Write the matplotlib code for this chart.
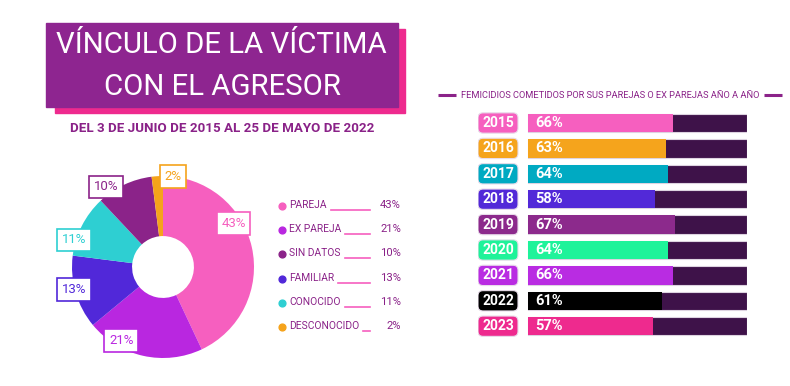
import matplotlib.pyplot as plt
from matplotlib.patches import Rectangle, FancyBboxPatch
import numpy as np

plt.rcParams['font.family'] = ['Roboto', 'DejaVu Sans']

W, H = 790, 386

TITULO = ["VÍNCULO DE LA VÍCTIMA", "CON EL AGRESOR"]
SUBTITULO = "DEL 3 DE JUNIO DE 2015 AL 25 DE MAYO DE 2022"
ENCABEZADO = "FEMICIDIOS COMETIDOS POR SUS PAREJAS O EX PAREJAS AÑO A AÑO"

# dona: sectores en sentido horario desde arriba
vinculos = ["PAREJA", "EX PAREJA", "FAMILIAR", "CONOCIDO", "SIN DATOS", "DESCONOCIDO"]
vinculo_pct = [43, 21, 13, 11, 10, 2]
vinculo_colores = ["#f65fbf", "#b927e0", "#5128d9", "#2ecfd2", "#8b2389", "#f5a31b"]
leyenda_orden = ["PAREJA", "EX PAREJA", "SIN DATOS", "FAMILIAR", "CONOCIDO", "DESCONOCIDO"]

# barras por año
anios = ["2015", "2016", "2017", "2018", "2019", "2020", "2021", "2022", "2023"]
anio_pct = [66, 63, 64, 58, 67, 64, 66, 61, 57]
anio_colores = ["#f65fbf", "#f5a41c", "#00aac2", "#5229d8", "#8c2a8c",
                "#1ef39a", "#b92ce2", "#000000", "#ee2a8e"]

MORADO = "#8b2389"
TEXTO = "#8a2288"
ROSA = "#f65fbf"
FONDO_BARRA = "#3e1249"

fig = plt.figure(figsize=(W / 100, H / 100), dpi=100)
bg = fig.add_axes([0, 0, 1, 1])
bg.set_xlim(0, W)
bg.set_ylim(H, 0)
bg.axis('off')
rend = fig.canvas.get_renderer()


def px_axes(x0, y0, x1, y1):
    return fig.add_axes([x0 / W, 1 - y1 / H, (x1 - x0) / W, (y1 - y0) / H])


def ajustar(t, ancho):
    # escala la fuente para que el texto ocupe 'ancho' pixeles
    w = t.get_window_extent(rend).width
    t.set_fontsize(t.get_fontsize() * ancho / w)
    return t


def extremos(t):
    bb = t.get_window_extent(rend)
    return bb.x0, bb.x1


# --- titulo ---
bg.add_patch(Rectangle((55, 29), 350, 84, color="#ee2a8e", zorder=1))
bg.add_patch(Rectangle((46, 23), 352, 84, color="#8e2590", zorder=2))
t1 = bg.text(221, 45, TITULO[0], color='white', fontsize=20, ha='center', va='center', zorder=3)
ajustar(t1, 330)
bg.text(222, 87, TITULO[1], color='white', fontsize=t1.get_fontsize(),
        ha='center', va='center', zorder=3)
ts = bg.text(222, 128, SUBTITULO, color=TEXTO, fontsize=10, fontweight='bold',
             ha='center', va='center')
ajustar(ts, 305)

# --- dona ---
cx, cy, r = 163, 267, 91
axd = px_axes(cx - r, cy - r, cx + r, cy + r)
wedges, _ = axd.pie(vinculo_pct, colors=vinculo_colores, startangle=90, counterclock=False,
                    radius=1, wedgeprops=dict(width=0.66, linewidth=0))
axd.set_xlim(-1, 1)
axd.set_ylim(-1, 1)
axd.set_aspect('equal')
axd.axis('off')

# ajuste de posición de las etiquetas (grados, radio)
ajustes = [(19, 0.91), (-17, 0.93), (-2, 1.01), (10, 1.02), (10, 1.08), (-10, 1.0)]
for w, v, c, (da, rr) in zip(wedges, vinculo_pct, vinculo_colores, ajustes):
    ang = np.deg2rad((w.theta1 + w.theta2) / 2 + da)
    axd.text(rr * np.cos(ang), rr * np.sin(ang), f"{v}%", color=c, fontsize=9.5,
             ha='center', va='center', clip_on=False,
             bbox=dict(boxstyle='square,pad=0.35', fc='white', ec=c, lw=1.2))

# --- leyenda ---
filas = []
for i, nombre in enumerate(leyenda_orden):
    k = vinculos.index(nombre)
    y = 205 + i * 24.2
    bg.scatter([282], [y + 1], s=24, color=vinculo_colores[k], zorder=3)
    t = bg.text(289, y, nombre, color=TEXTO, fontsize=9, ha='left', va='center')
    filas.append((t, y, k))

ajustar(filas[-1][0], 70)
tam_ley = filas[-1][0].get_fontsize()
inv = bg.transData.inverted()
for t, y, k in filas:
    t.set_fontsize(tam_ley)
    bg.text(401, y, f"{vinculo_pct[k]}%", color=TEXTO, fontsize=tam_ley * 1.1,
            ha='right', va='center')
    x_end = inv.transform((extremos(t)[1], 0))[0]
    bg.plot([max(x_end + 4, 323), 370], [y + 5, y + 5], color=ROSA, lw=1.2)

# --- encabezado derecho ---
th = bg.text(610, 95, ENCABEZADO, color=TEXTO, fontsize=7, ha='center', va='center')
ajustar(th, 300)
a, b = extremos(th)
x0 = inv.transform((a, 0))[0]
x1 = inv.transform((b, 0))[0]
bg.plot([438, x0 - 5], [95, 95], color=MORADO, lw=2.2, solid_capstyle='butt')
bg.plot([x1 + 5, 782], [95, 95], color=MORADO, lw=2.2, solid_capstyle='butt')

# --- barras ---
BADGE_L, BAR_L, BAR_R = 478, 528, 747
paso = 25.4
y_top = 123 - paso / 2
axb = px_axes(BADGE_L, y_top, BAR_R, y_top + paso * len(anios))
xlo = -(BAR_L - BADGE_L) / (BAR_R - BAR_L) * 100
axb.set_xlim(xlo, 100)
axb.set_ylim(len(anios) - 0.5, -0.5)
axb.axis('off')
ypos = np.arange(len(anios))
axb.barh(ypos, 100, height=0.72, color=FONDO_BARRA, edgecolor="#ddd3e0", linewidth=0.8)
axb.barh(ypos, anio_pct, height=0.72, color=anio_colores, linewidth=0)

ux = 100 / (BAR_R - BAR_L)      # unidades x por pixel
uy = 1 / paso                   # unidades y por pixel
bw, bh = 40 * ux, 0.8
for i, (a, v, c) in enumerate(zip(anios, anio_pct, anio_colores)):
    axb.add_patch(FancyBboxPatch((xlo, i - bh / 2), bw, bh,
                                 boxstyle=f"round,pad=0,rounding_size={5 * ux}",
                                 mutation_aspect=uy / ux, fc=c, ec="#e8dcea", lw=0.8))
    axb.text(xlo + bw / 2, i, a, color='white', fontsize=10, fontweight='bold',
             ha='center', va='center')
    axb.text(3.5, i, f"{v}%", color='white', fontsize=10.5, fontweight='bold',
             ha='left', va='center')

fig.savefig("out.png", dpi=100)
